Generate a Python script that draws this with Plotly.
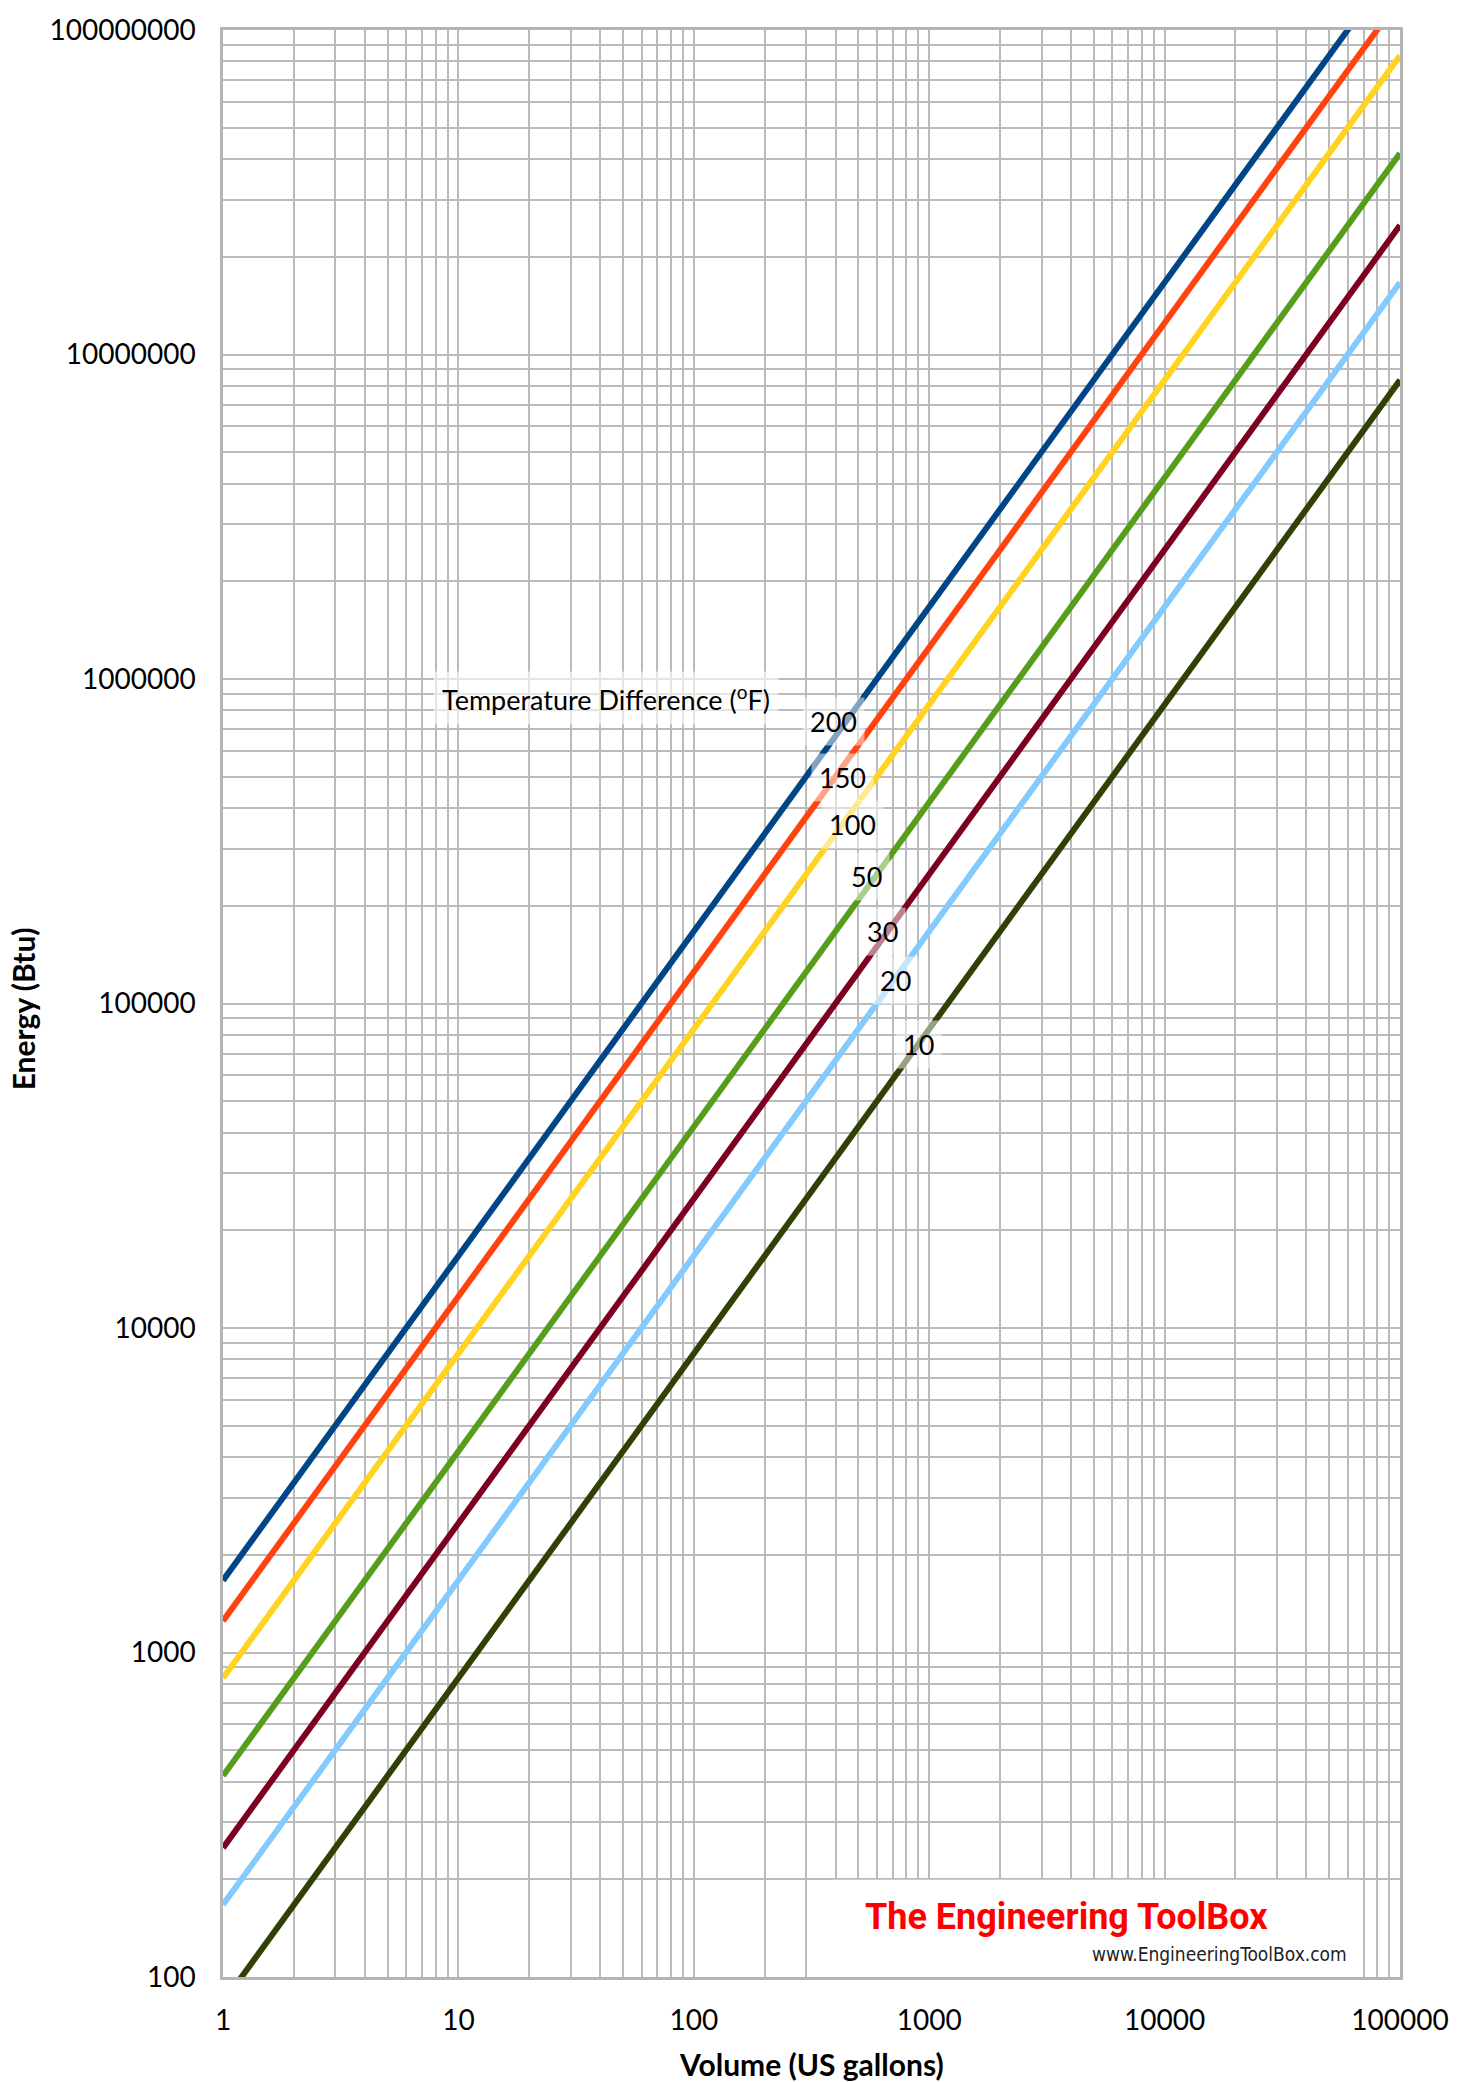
import plotly.graph_objects as go

# Data (energy in Btu at each volume in US gallons)
volume_gal = [1, 10, 100, 1000, 10000, 100000]
temp_diffs = [200, 150, 100, 50, 30, 20, 10]
energy_200 = [1668, 16680, 166800, 1668000, 16680000, 166800000]
energy_150 = [1251, 12510, 125100, 1251000, 12510000, 125100000]
energy_100 = [834, 8340, 83400, 834000, 8340000, 83400000]
energy_50 = [417, 4170, 41700, 417000, 4170000, 41700000]
energy_30 = [250, 2502, 25020, 250200, 2502000, 25020000]
energy_20 = [167, 1668, 16680, 166800, 1668000, 16680000]
energy_10 = [83.4, 834, 8340, 83400, 834000, 8340000]

series = [energy_200, energy_150, energy_100, energy_50, energy_30, energy_20, energy_10]
colors = ["#004586", "#ff420e", "#ffd320", "#579d1c", "#7e0021", "#83caff", "#314004"]

x_tickvals = [1, 10, 100, 1000, 10000, 100000]
x_ticktext = ["1", "10", "100", "1000", "10000", "100000"]
y_tickvals = [100, 1000, 10000, 100000, 1000000, 10000000, 100000000]
y_ticktext = ["100", "1000", "10000", "100000", "1000000", "10000000", "100000000"]
minor_digits = [2, 3, 4, 5, 6, 7, 8, 9]

# label positions (paper coords) for the temperature-difference labels
label_pos = [(0.519, 0.645), (0.526, 0.616), (0.535, 0.592), (0.547, 0.565),
             (0.560, 0.537), (0.571, 0.512), (0.591, 0.479)]

FONT = "Lato, Open Sans, sans-serif"
GRID = "#bbbbbb"

fig = go.Figure()
for dt, vals, col in zip(temp_diffs, series, colors):
    fig.add_trace(go.Scatter(x=volume_gal, y=vals, mode="lines", name=f"{dt}",
                             line=dict(color=col, width=6), showlegend=False))

fig.update_layout(
    width=1461, height=2082,
    margin=dict(l=223, r=59, t=24, b=105),
    paper_bgcolor="white", plot_bgcolor="white",
    font=dict(family=FONT, size=28, color="black"),
)


def axis_common(decades):
    minor_vals = [d * 10 ** e for e in decades for d in minor_digits]
    return dict(
        type="log", showgrid=True, gridcolor=GRID, gridwidth=1.5,
        showline=True, linecolor="#b5b5b5", linewidth=2.5, mirror=True,
        ticks="", zeroline=False,
        minor=dict(tickvals=minor_vals, showgrid=True, gridcolor=GRID, gridwidth=1.5, ticks=""),
        tickfont=dict(family=FONT, size=28, color="black"),
    )


fig.update_xaxes(range=[0, 5], tickvals=x_tickvals, ticktext=x_ticktext,
                 ticklabelstandoff=17, **axis_common(range(0, 5)))
fig.update_yaxes(range=[2, 8], tickvals=y_tickvals, ticktext=y_ticktext,
                 ticklabelstandoff=19, **axis_common(range(2, 8)))

# axis titles
fig.add_annotation(text="<b>Energy (Btu)</b>", textangle=-90, xref="paper", yref="paper",
                   x=0, y=0.497, xanchor="center", yanchor="middle", xshift=-200,
                   showarrow=False, font=dict(family=FONT, size=30, color="black"))
fig.add_annotation(text="<b>Volume (US gallons)</b>", xref="paper", yref="paper",
                   x=0.5, y=0, xanchor="center", yanchor="middle", yshift=-87,
                   showarrow=False, font=dict(family=FONT, size=30, color="black"))

# legend-like labels
fig.add_annotation(text="Temperature Difference (<sup>o</sup>F)", xref="paper", yref="paper",
                   x=0.178, y=0.657, xanchor="left", yanchor="middle", showarrow=False,
                   bgcolor="rgba(255,255,255,0.6)", borderpad=8,
                   font=dict(family=FONT, size=27, color="black"))
for dt, (px, py) in zip(temp_diffs, label_pos):
    fig.add_annotation(text=str(dt), xref="paper", yref="paper", x=px, y=py,
                       xanchor="center", yanchor="middle", showarrow=False,
                       bgcolor="rgba(255,255,255,0.5)", borderpad=7,
                       font=dict(family=FONT, size=27, color="black"))

# logo box
fig.add_shape(type="rect", xref="paper", yref="paper", x0=0.518, x1=0.965, y0=0.0, y1=0.050,
              fillcolor="white", line=dict(width=0), layer="above")
fig.add_annotation(text="<b>The Engineering ToolBox</b>", xref="paper", yref="paper",
                   x=0.544, y=0.031, xanchor="left", yanchor="middle", showarrow=False,
                   font=dict(family="Liberation Sans Narrow, Arial Narrow, Roboto",
                             size=36, color="#ff0000"))
fig.add_annotation(text="www.EngineeringToolBox.com", xref="paper", yref="paper",
                   x=0.957, y=0.012, xanchor="right", yanchor="middle", showarrow=False,
                   font=dict(family="DejaVu Sans Condensed, DejaVu Sans", size=19, color="#222222"))

fig.write_html("out.html", config={"displayModeBar": False},
               post_script="document.body.style.margin='0';")
